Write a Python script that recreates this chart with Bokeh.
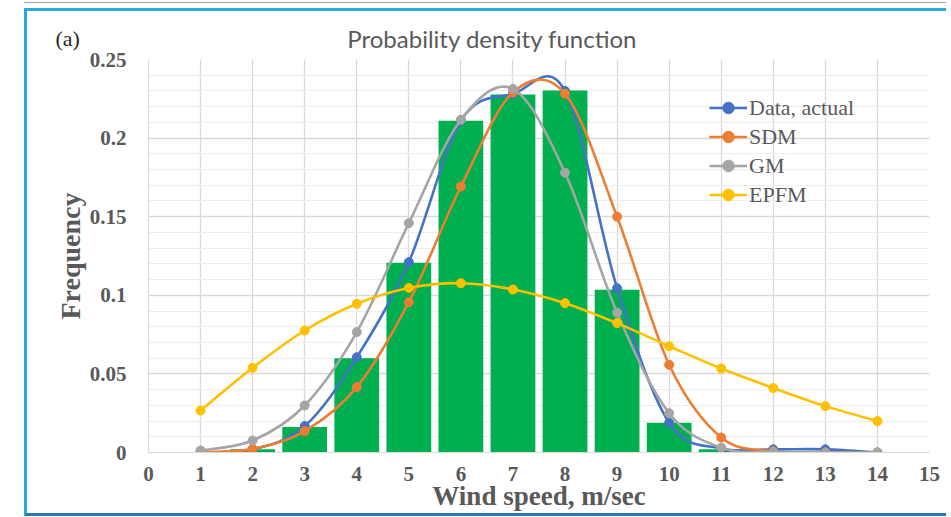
from bokeh.plotting import figure
from bokeh.models import (FixedTicker, CustomJSTickFormatter, Label, Legend, LegendItem,
                          Range1d, ColumnDataSource)
from bokeh.embed import file_html
from bokeh.resources import INLINE

# ---------------- data ----------------
speed = [1, 2, 3, 4, 5, 6, 7, 8, 9, 10, 11, 12, 13, 14]
hist = [0.000, 0.002, 0.0163, 0.0600, 0.1207, 0.2110, 0.2277, 0.2303, 0.1035, 0.0190, 0.0020, 0.0, 0.0, 0.0]
actual = [0.000, 0.002, 0.0168, 0.0606, 0.1211, 0.2110, 0.2280, 0.2300, 0.1045, 0.0189, 0.0025, 0.0020, 0.0020, 0.000]
sdm = [0.000, 0.0023, 0.0136, 0.0416, 0.0956, 0.1692, 0.2290, 0.2282, 0.1500, 0.0558, 0.0095, 0.0008, 0.000, 0.000]
gm = [0.0013, 0.0076, 0.0299, 0.0766, 0.1459, 0.2117, 0.2313, 0.1780, 0.0889, 0.0250, 0.0030, 0.0003, 0.000, 0.000]
epfm = [0.0267, 0.0539, 0.0776, 0.0946, 0.1047, 0.1077, 0.1037, 0.0950, 0.0823, 0.0676, 0.0534, 0.0410, 0.0295, 0.0200]

series_names = ["Data, actual", "SDM", "GM", "EPFM"]
series_colors = ["#4472C4", "#ED7D31", "#A5A5A5", "#FFC000"]
x_ticks = [0, 1, 2, 3, 4, 5, 6, 7, 8, 9, 10, 11, 12, 13, 14, 15]
y_ticks = [0, 0.05, 0.1, 0.15, 0.2, 0.25]
y_minor = [0.01, 0.02, 0.03, 0.04, 0.06, 0.07, 0.08, 0.09, 0.11, 0.12, 0.13, 0.14,
           0.16, 0.17, 0.18, 0.19, 0.21, 0.22, 0.23, 0.24]
title_text = "Probability density function"
x_label = "Wind speed, m/sec"
y_label = "Frequency"
panel_tag = "(a)"

GRAY_TXT = "#595959"
SERIF = "Liberation Serif"

p = figure(width=922, height=508, output_backend="svg", toolbar_location=None,
           x_range=Range1d(0, 15), y_range=Range1d(0, 0.25),
           min_border_left=121, min_border_right=20, min_border_top=48, min_border_bottom=67)
p.margin = (8, 0, 0, 24)
p.styles = {"border-top": "3px solid #2AA9DF", "border-left": "3px solid #2AA9DF",
            "border-bottom": "3px solid #2E75B6",
            "box-shadow": "0 -5px 0 0 white, 0 -6px 0 0 #A8A0A0"}
p.outline_line_color = None
p.background_fill_color = "white"
p.border_fill_color = "white"

# grids
p.xaxis.ticker = FixedTicker(ticks=x_ticks)
p.yaxis.ticker = FixedTicker(ticks=y_ticks, minor_ticks=y_minor)
p.xgrid.ticker = FixedTicker(ticks=x_ticks)
p.ygrid.ticker = FixedTicker(ticks=y_ticks, minor_ticks=y_minor)
p.xgrid.grid_line_color = "#D9D9D9"
p.ygrid.grid_line_color = "#D9D9D9"
p.ygrid.minor_grid_line_color = "#EDEDED"
p.xgrid.grid_line_width = 1.3
p.ygrid.grid_line_width = 1.3

# axes
for ax in (p.xaxis[0], p.yaxis[0]):
    ax.major_tick_line_color = None
    ax.minor_tick_line_color = None
    ax.major_label_text_font = SERIF
    ax.major_label_text_font_style = "bold"
    ax.major_label_text_font_size = "21px"
    ax.major_label_text_color = GRAY_TXT
    ax.axis_label_text_font = SERIF
    ax.axis_label_text_font_style = "bold"
    ax.axis_label_text_color = GRAY_TXT
p.xaxis.axis_label_text_font_size = "27px"
p.yaxis.axis_label_text_font_size = "28px"
p.xaxis.axis_line_color = "#D9D9D9"
p.yaxis.axis_line_color = "#D9D9D9"
p.yaxis.formatter = CustomJSTickFormatter(code="return tick.toString();")
p.xaxis.axis_label = x_label
p.yaxis.axis_label = y_label
p.xaxis.major_label_standoff = 8
p.xaxis.axis_label_standoff = -3
p.yaxis.major_label_standoff = 16
p.yaxis.axis_label_standoff = 1

# bars
p.vbar(x=speed, top=hist, width=0.86, fill_color="#00B050", line_color=None)


def smooth_segments(xs, ys):
    n = len(xs)
    d = dict(x0=[], y0=[], x1=[], y1=[], cx0=[], cy0=[], cx1=[], cy1=[])
    for i in range(n - 1):
        a = max(i - 1, 0)
        b = min(i + 2, n - 1)
        d["x0"].append(xs[i]); d["y0"].append(ys[i])
        d["x1"].append(xs[i + 1]); d["y1"].append(ys[i + 1])
        d["cx0"].append(xs[i] + (xs[i + 1] - xs[a]) / 6.0)
        d["cy0"].append(ys[i] + (ys[i + 1] - ys[a]) / 6.0)
        d["cx1"].append(xs[i + 1] - (xs[b] - xs[i]) / 6.0)
        d["cy1"].append(ys[i + 1] - (ys[b] - ys[i]) / 6.0)
    return ColumnDataSource(d)


items = []
for name, col, vals in zip(series_names, series_colors, [actual, sdm, gm, epfm]):
    br = p.bezier(x0="x0", y0="y0", x1="x1", y1="y1", cx0="cx0", cy0="cy0", cx1="cx1", cy1="cy1",
                  source=smooth_segments(speed, vals), line_color=col, line_width=2.6)
    sr = p.scatter(x=speed, y=vals, size=9, fill_color=col, line_color=col)
    items.append(LegendItem(label=name, renderers=[br, sr]))

legend = Legend(items=items, location=(561, 243), orientation="vertical",
                label_text_font=SERIF, label_text_font_size="22px", label_text_color=GRAY_TXT,
                glyph_width=38, glyph_height=29, label_height=29, spacing=0, padding=0, margin=0,
                label_standoff=2, background_fill_alpha=0, border_line_alpha=0)
p.add_layout(legend, "center")

p.add_layout(Label(x=344, y=21, x_units="screen", y_units="screen", text=title_text,
                   text_font="Lato", text_font_size="24px", text_color=GRAY_TXT,
                   text_align="center", text_baseline="middle"), "above")
p.add_layout(Label(x=28, y=414, x_units="screen", y_units="screen", text=panel_tag,
                   text_font=SERIF, text_font_size="22px", text_color="#262626",
                   text_align="left", text_baseline="middle"), "left")

open("out.html", "w").write(file_html(p, INLINE))
